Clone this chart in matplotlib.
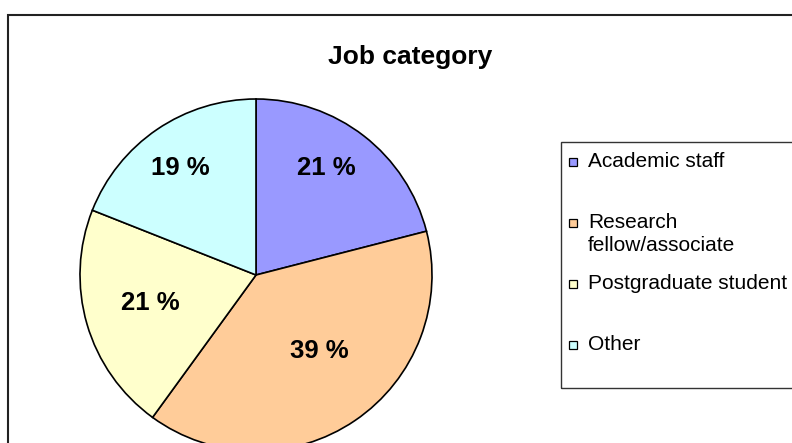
import matplotlib
matplotlib.use('Agg')
import matplotlib.pyplot as plt
from matplotlib.patches import Rectangle
import numpy as np

plt.rcParams['font.family'] = ['Liberation Sans', 'DejaVu Sans']

# data
categories = ['Academic staff', 'Research\nfellow/associate', 'Postgraduate student', 'Other']
shares = [21, 39, 21, 19]
colors = ['#9999FF', '#FFCC99', '#FFFFCC', '#CCFFFF']
title = 'Job category'

# layout in pixels (y up)
W, H = 792, 443
center = (256, H - 275)
radius = 176
label_frac = [0.73, 0.56, 0.62, 0.745]
label_turn = [4.5, 5.5, -1.4, 1.2]  # degrees off the wedge middle

fig = plt.figure(figsize=(W / 100, H / 100), dpi=100)
ax = fig.add_axes([0, 0, 1, 1])

wedges, _ = ax.pie(shares, colors=colors, startangle=90, counterclock=False,
                   center=center, radius=radius,
                   wedgeprops=dict(edgecolor='black', linewidth=1.2))

# percentage labels
for w, v, f, t in zip(wedges, shares, label_frac, label_turn):
    ang = np.deg2rad((w.theta1 + w.theta2) / 2 + t)
    x = center[0] + radius * f * np.cos(ang)
    y = center[1] + radius * f * np.sin(ang)
    ax.text(x, y, f'{v} %', ha='center', va='center', fontsize=18.5, fontweight='bold')

ax.text(410, H - 57, title, ha='center', va='center', fontsize=19, fontweight='bold')

# outer chart frame
ax.add_patch(Rectangle((8, -20), 820, H - 15 + 20, fill=False, edgecolor='#222222',
                       linewidth=1.5, clip_on=False))

# legend
ax.add_patch(Rectangle((561, H - 388), 260, 246, fill=False, edgecolor='#333333',
                       linewidth=1.0, clip_on=False))
y0 = 160
step = 61
for i, (lab, c) in enumerate(zip(categories, colors)):
    cy = y0 + i * step
    ax.add_patch(Rectangle((569, H - cy - 6), 8, 8, facecolor=c, edgecolor='black',
                           linewidth=0.9))
    for j, line in enumerate(lab.split('\n')):
        ax.text(588, H - (cy + 7 + j * 23), line, ha='left', va='baseline', fontsize=15)

ax.set_xlim(0, W)
ax.set_ylim(0, H)
ax.set_aspect('auto')
ax.axis('off')

fig.savefig('out.png', dpi=100)
